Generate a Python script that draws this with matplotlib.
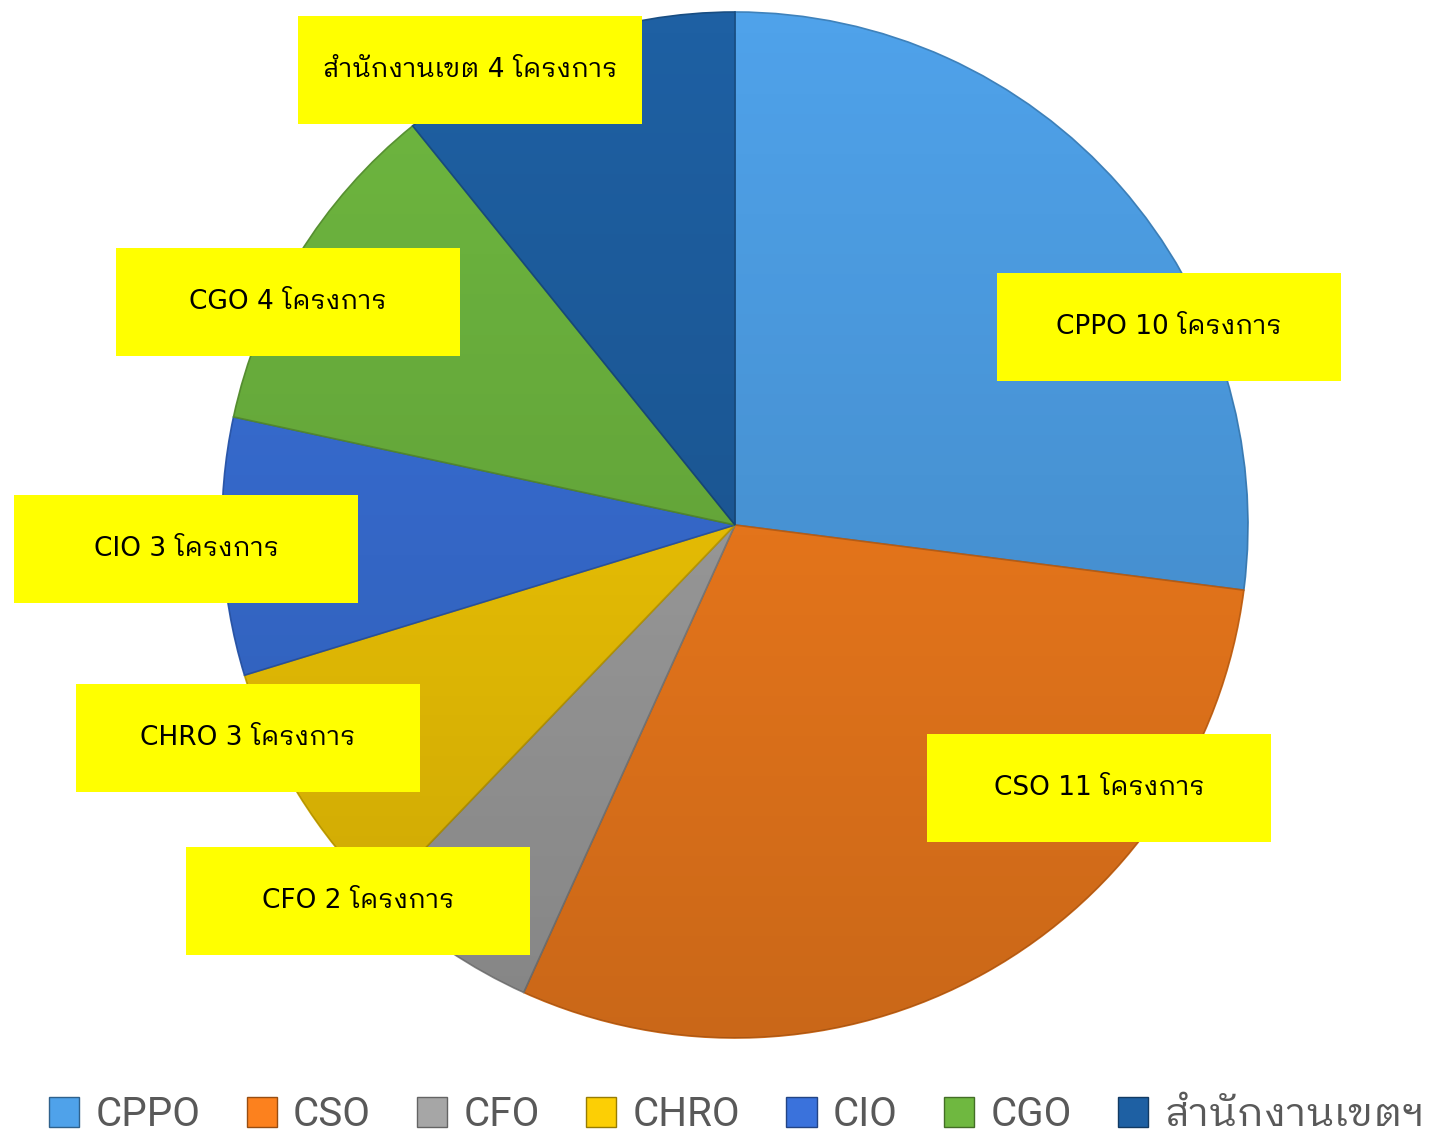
import matplotlib
matplotlib.use("Agg")
import matplotlib.pyplot as plt
import numpy as np
from matplotlib.patches import Rectangle, Circle
from matplotlib.colors import to_rgb

label_family = ['DejaVu Sans', 'IBM Plex Sans Thai Looped', 'Noto Sans Thai Looped', 'FreeSerif']
legend_family = ['Roboto', 'IBM Plex Sans Thai Looped', 'Noto Sans Thai Looped', 'DejaVu Sans']
plt.rcParams['font.family'] = label_family

categories = ['CPPO', 'CSO', 'CFO', 'CHRO', 'CIO', 'CGO', 'สำนักงานเขตฯ']
values = [10, 11, 2, 3, 3, 4, 4]
label_texts = ['CPPO 10 โครงการ', 'CSO 11 โครงการ', 'CFO 2 โครงการ', 'CHRO 3 โครงการ',
               'CIO 3 โครงการ', 'CGO 4 โครงการ', 'สำนักงานเขต 4 โครงการ']
colors = ['#4fa2ea', '#fc811e', '#a6a6a6', '#fccf05', '#3a72dc', '#6fb840', '#1e60a3']
# label box centers in pixel coordinates (layout)
label_px = [(1169, 327), (1099, 788), (358, 901), (248, 738), (186, 549), (288, 302), (470, 70)]

W, H = 1445, 1136
cx, cy, R = 735, 525, 513
fig = plt.figure(figsize=(W / 100, H / 100), dpi=100)
ax = fig.add_axes([(cx - R) / W, (H - cy - R) / H, 2 * R / W, 2 * R / H])

def darker(c, f=0.75):
    r, g, b = to_rgb(c)
    return (r * f, g * f, b * f)

wedges, _ = ax.pie(values, colors=colors, startangle=90, counterclock=False, radius=1,
                   wedgeprops=dict(linewidth=1.2))
for w, c in zip(wedges, colors):
    w.set_edgecolor(darker(c, 0.8))
ax.set_aspect('equal')
ax.axis('off')

# subtle vertical shading overlay (lighter top, darker bottom)
n = 400
yy = np.linspace(1, 0, n)[:, None] * np.ones((1, n))
img = np.zeros((n, n, 4))
img[..., 3] = 0.2 * (1 - yy)
im = ax.imshow(img, extent=(-1, 1, -1, 1), zorder=3, aspect='auto')
clip = Circle((0, 0), 1, transform=ax.transData)
im.set_clip_path(clip)
ax.set_xlim(-1, 1)
ax.set_ylim(-1, 1)

bw, bh = 344 / R, 108 / R
for txt, (px, py) in zip(label_texts, label_px):
    x = (px - cx) / R
    y = (cy - py) / R
    ax.add_patch(Rectangle((x - bw / 2, y - bh / 2), bw, bh, facecolor='#ffff00',
                           edgecolor='none', zorder=5, clip_on=False))
    ax.text(x, y, txt, ha='center', va='center', fontsize=19, color='black',
            zorder=6, clip_on=False, family=label_family)

handles = [Rectangle((0, 0), 1, 1, facecolor=c, edgecolor=darker(c, 0.6)) for c in colors]
leg = fig.legend(handles, categories, loc='lower center', ncol=7, frameon=False,
                 prop=dict(family=legend_family, size=29, weight='normal'),
                 labelcolor='#595959', handlelength=0.75, handleheight=0.75,
                 columnspacing=1.15, handletextpad=0.4, bbox_to_anchor=(0.51, -0.03))

fig.savefig('out.png', dpi=100)
